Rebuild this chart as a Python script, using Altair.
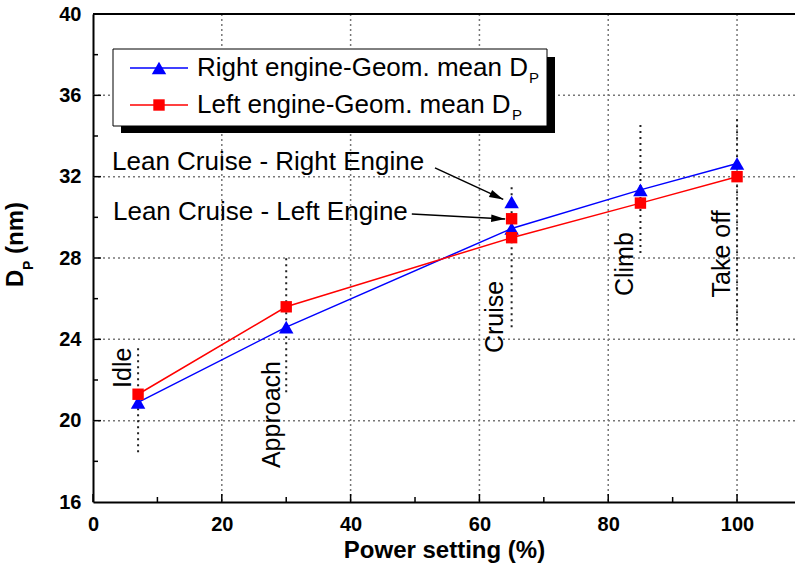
import math
import altair as alt
import pandas as pd

# ---------------- data ----------------
stages = ["Idle", "Approach", "Cruise", "Climb", "Take off"]
power = [7, 30, 65, 85, 100]
right_dp = [20.9, 24.6, 29.45, 31.35, 32.65]
left_dp = [21.3, 25.6, 29.0, 30.7, 32.0]

series = ["Right engine-Geom. mean D", "Left engine-Geom. mean D"]
series_colors = ["#0000ff", "#ff0000"]
series_shapes = ["triangle-up", "square"]
series_sizes = [210, 130]

lean_labels = ["Lean Cruise - Right Engine", "Lean Cruise - Left Engine"]
lean_power = [65, 65]
lean_dp = [30.75, 29.93]

# annotation anchors, in data units
guide_low = [18.45, 21.4, 24.6, 28.25, 24.4]
guide_high = [23.7, 28.05, 31.6, 34.55, 35.0]
stage_label_x = [4.7, 27.8, 62.4, 82.6, 97.6]
stage_label_y = [22.6, 20.3, 25.1, 27.7, 28.2]
lean_text_x = [2.95, 3.1]
lean_text_y = [32.72, 30.26]
arrow_start_x = [53.1, 49.5]
arrow_start_y = [32.43, 30.16]
arrow_tip_x = [63.7, 64.0]
arrow_tip_y = [30.88, 29.92]

x_labels = [0, 20, 40, 60, 80, 100]
y_labels = [16, 20, 24, 28, 32, 36, 40]

# ---------------- layout ----------------
W, H = 702, 488
XMIN, XMAX = 0, 109
YMIN, YMAX = 16, 40
FONT = "Liberation Sans"
sx = W / (XMAX - XMIN)
sy = H / (YMAX - YMIN)

xscale = alt.Scale(domain=[XMIN, XMAX], nice=False, zero=False)
yscale = alt.Scale(domain=[YMIN, YMAX], nice=False, zero=False)
cscale = alt.Scale(domain=series, range=series_colors)
shscale = alt.Scale(domain=series, range=series_shapes)
szscale = alt.Scale(domain=series, range=series_sizes)

xaxis = alt.Axis(values=x_labels, ticks=False, grid=False, labelPadding=12,
                 labelFontSize=20, labelFontWeight="bold", labelFont=FONT,
                 labelColor="black", labelFlush=False, title="Power setting (%)",
                 titleFont=FONT, titleFontSize=24, titleFontWeight="bold",
                 titleColor="black", titlePadding=4, domainColor="black", domainWidth=2)
yaxis = alt.Axis(values=y_labels, ticks=False, grid=False, labelPadding=12,
                 labelFontSize=20, labelFontWeight="bold", labelFont=FONT,
                 labelColor="black", labelFlush=False, title=None,
                 domainColor="black", domainWidth=2)


def X(field):
    return alt.X(field, type="quantitative", scale=xscale, axis=xaxis)


def Y(field):
    return alt.Y(field, type="quantitative", scale=yscale, axis=yaxis)


df = pd.DataFrame({
    "power": power + power,
    "dp": right_dp + left_dp,
    "series": [series[0]] * len(power) + [series[1]] * len(power),
})
df_lean = pd.DataFrame({"power": lean_power, "dp": lean_dp, "series": series,
                        "label": lean_labels})

one = pd.DataFrame({"a": [0]})

# dotted grid drawn from the tick label values
GRID_STYLE = dict(color="#777777", strokeWidth=1.5, strokeDash=[2, 3], opacity=1)
grid_x = alt.Chart(pd.DataFrame({"v": x_labels[1:]})).mark_rule(**GRID_STYLE).encode(
    x=X("v"), y=alt.value(0), y2=alt.value(H))
grid_y = alt.Chart(pd.DataFrame({"v": y_labels[1:-1]})).mark_rule(**GRID_STYLE).encode(
    y=Y("v"), x=alt.value(0), x2=alt.value(W))

lines = alt.Chart(df).mark_line(strokeWidth=1.5).encode(
    x=X("power"), y=Y("dp"),
    color=alt.Color("series:N", scale=cscale, legend=None),
    detail="series:N",
)

pts_enc = dict(
    x=X("power"), y=Y("dp"),
    color=alt.Color("series:N", scale=cscale, legend=None),
    fill=alt.Fill("series:N", scale=cscale, legend=None),
    shape=alt.Shape("series:N", scale=shscale, legend=None),
    size=alt.Size("series:N", scale=szscale, legend=None),
)
points = alt.Chart(df).mark_point(filled=True, opacity=1).encode(**pts_enc)
lean_points = alt.Chart(df_lean).mark_point(filled=True, opacity=1).encode(**pts_enc)

# dotted stage guides and rotated stage labels
df_stage = pd.DataFrame({"stage": stages, "power": power, "lo": guide_low,
                         "hi": guide_high, "lx": stage_label_x, "ly": stage_label_y})
guides = alt.Chart(df_stage).mark_rule(color="#222222", strokeWidth=2,
                                       strokeDash=[2, 4]).encode(
    x=X("power"), y=Y("lo"), y2="hi:Q",
)
stage_text = alt.Chart(df_stage).mark_text(angle=270, font=FONT, fontSize=25,
                                           color="black", align="center",
                                           baseline="middle").encode(
    x=X("lx"), y=Y("ly"), text="stage:N",
)

# lean cruise annotations with arrows
angles = []
for i in range(2):
    dx = (arrow_tip_x[i] - arrow_start_x[i]) * sx
    dy = (arrow_start_y[i] - arrow_tip_y[i]) * sy
    angles.append(math.degrees(math.atan2(dy, dx)) % 360)
df_arrow = pd.DataFrame({"label": lean_labels, "tx": lean_text_x, "ty": lean_text_y,
                         "x0": arrow_start_x, "y0": arrow_start_y,
                         "x1": arrow_tip_x, "y1": arrow_tip_y, "ang": angles})
lean_text = alt.Chart(df_arrow).mark_text(font=FONT, fontSize=26, color="black",
                                          align="left", baseline="middle").encode(
    x=X("tx"), y=Y("ty"), text="label:N",
)
arrow_shaft = alt.Chart(df_arrow).mark_rule(color="black", strokeWidth=1.5).encode(
    x=X("x0"), y=Y("y0"), x2="x1:Q", y2="y1:Q",
)
arrow_head = alt.Chart(df_arrow).mark_point(
    shape="M0,0L-2,-0.55L-2,0.55Z", filled=True, color="black", opacity=1, size=196
).encode(
    x=X("x1"), y=Y("y1"),
    angle=alt.Angle("ang:Q", scale=None),
)

# inward ticks
xt_major = pd.DataFrame({"v": list(range(0, 101, 20))})
xt_minor = pd.DataFrame({"v": list(range(10, 101, 20))})
yt_major = pd.DataFrame({"v": list(range(20, 37, 4))})
yt_minor = pd.DataFrame({"v": list(range(18, 40, 4))})


def xticks(d, ln):
    return alt.Chart(d).mark_rule(color="black", strokeWidth=1.5).encode(
        x=X("v"), y=alt.value(H), y2=alt.value(H - ln))


def yticks(d, ln):
    return alt.Chart(d).mark_rule(color="black", strokeWidth=1.5).encode(
        y=Y("v"), x=alt.value(0), x2=alt.value(ln))


top_border = alt.Chart(one).mark_rule(color="black", strokeWidth=2).encode(
    x=alt.value(0), x2=alt.value(W), y=alt.value(0))

# hand-drawn legend with drop shadow
leg = [
    alt.Chart(one).mark_rect(color="black").encode(
        x=alt.value(28), x2=alt.value(462), y=alt.value(43), y2=alt.value(119)),
    alt.Chart(one).mark_rect(fill="white", stroke="black", strokeWidth=1).encode(
        x=alt.value(20), x2=alt.value(454), y=alt.value(35), y2=alt.value(112)),
]
rows_y = [54, 91]
sub_x = [436, 419]
for i in range(2):
    leg.append(alt.Chart(one).mark_rule(color=series_colors[i], strokeWidth=1.5).encode(
        x=alt.value(37), x2=alt.value(95), y=alt.value(rows_y[i])))
    leg.append(alt.Chart(one).mark_point(shape=series_shapes[i], filled=True, opacity=1,
                                         color=series_colors[i],
                                         size=series_sizes[i]).encode(
        x=alt.value(66), y=alt.value(rows_y[i])))
    leg.append(alt.Chart(one).mark_text(text=series[i], font=FONT, fontSize=26,
                                        color="black", align="left",
                                        baseline="middle").encode(
        x=alt.value(104), y=alt.value(rows_y[i])))
    leg.append(alt.Chart(one).mark_text(text="P", font=FONT, fontSize=15,
                                        color="black", align="left",
                                        baseline="middle").encode(
        x=alt.value(sub_x[i]), y=alt.value(rows_y[i] + 10)))

# y axis title D_P (nm), rotated
ytitle = [
    alt.Chart(one).mark_text(text="D", font=FONT, fontSize=24, fontWeight="bold",
                             angle=270, align="left", baseline="alphabetic",
                             color="black").encode(x=alt.value(-70), y=alt.value(273)),
    alt.Chart(one).mark_text(text="P", font=FONT, fontSize=14, fontWeight="bold",
                             angle=270, align="left", baseline="alphabetic",
                             color="black").encode(x=alt.value(-60), y=alt.value(256)),
    alt.Chart(one).mark_text(text="(nm)", font=FONT, fontSize=24, fontWeight="bold",
                             angle=270, align="left", baseline="alphabetic",
                             color="black").encode(x=alt.value(-70), y=alt.value(240)),
]

chart = alt.layer(
    grid_x, grid_y,
    lines, guides, points, lean_points, stage_text, lean_text, arrow_shaft, arrow_head,
    xticks(xt_major, 8), xticks(xt_minor, 5), yticks(yt_major, 8), yticks(yt_minor, 5),
    top_border, *leg, *ytitle,
).properties(
    width=W, height=H,
    autosize=alt.AutoSizeParams(type="none"),
    padding={"left": 93, "top": 14, "right": 0, "bottom": 65},
    background="white",
).configure_view(stroke=None)

chart.save("out.html", embed_options={"renderer": "svg", "actions": False})
